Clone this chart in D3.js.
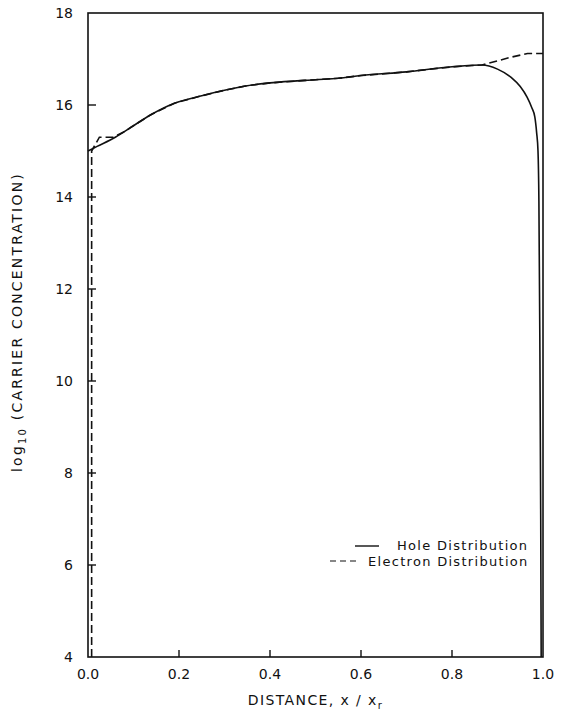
<!DOCTYPE html>
<html>
<head>
<meta charset="utf-8">
<script src="https://cdn.jsdelivr.net/npm/d3@7"></script>
<style>
  body { margin: 0; background: #fff; }
  svg { display: block; }
  text { font-family: "DejaVu Sans", sans-serif; fill: #111; }
</style>
</head>
<body>
<div id="chart"></div>
<script>
// Hole distribution (solid)
const holeX = [0, 0.02, 0.06, 0.10, 0.14, 0.19, 0.25, 0.30, 0.35, 0.40, 0.50, 0.55, 0.60, 0.70, 0.80, 0.866,
               0.90, 0.93, 0.95, 0.965, 0.975, 0.982, 0.986, 0.989, 0.991, 0.993, 0.995, 0.996];
const holeY = [15.0, 15.1, 15.3, 15.55, 15.8, 16.04, 16.2, 16.32, 16.42, 16.48, 16.55, 16.58, 16.64, 16.72, 16.83, 16.87,
               16.78, 16.6, 16.4, 16.17, 15.95, 15.74, 15.4, 15.0, 13.9, 11.0, 7.0, 4.0];

// Electron distribution (dashed)
const elecX = [0.008, 0.008, 0.025, 0.055, 0.08, 0.10, 0.14, 0.19, 0.25, 0.30, 0.35, 0.40, 0.50, 0.55, 0.60, 0.70, 0.80, 0.866,
               0.90, 0.93, 0.966, 1.0];
const elecY = [4.0, 15.0, 15.3, 15.3, 15.42, 15.55, 15.8, 16.04, 16.2, 16.32, 16.42, 16.48, 16.55, 16.58, 16.64, 16.72, 16.83, 16.87,
               16.96, 17.04, 17.12, 17.12];

const xTicks = [0, 0.2, 0.4, 0.6, 0.8, 1.0];
const yTicks = [4, 6, 8, 10, 12, 14, 16, 18];
const legendLabels = ["Hole Distribution", "Electron Distribution"];

const W = 563, H = 717;
const margin = { top: 13, right: 20, bottom: 60, left: 88 };
const chartW = 543 - margin.left;
const chartH = 657 - margin.top;

const x = d3.scaleLinear().domain([0, 1]).range([0, chartW]);
const y = d3.scaleLinear().domain([4, 18]).range([chartH, 0]);

const svg = d3.select("#chart").append("svg").attr("width", W).attr("height", H);
const g = svg.append("g").attr("transform", `translate(${margin.left},${margin.top})`);

// frame
g.append("rect")
  .attr("x", 0).attr("y", 0).attr("width", chartW).attr("height", chartH)
  .attr("fill", "none").attr("stroke", "#111").attr("stroke-width", 1.6);

// x ticks (inward)
xTicks.forEach(t => {
  if (t > 0 && t < 1) {
    g.append("line")
      .attr("x1", x(t)).attr("x2", x(t)).attr("y1", chartH).attr("y2", chartH - 7)
      .attr("stroke", "#111").attr("stroke-width", 1.4);
  }
  g.append("text")
    .attr("x", x(t)).attr("y", chartH + 22)
    .style("font-size", "14px").style("text-anchor", "middle")
    .text(d3.format(".1f")(t));
});

// y ticks (inward)
yTicks.forEach(t => {
  if (t > 4 && t < 18) {
    g.append("line")
      .attr("x1", 0).attr("x2", 8).attr("y1", y(t)).attr("y2", y(t))
      .attr("stroke", "#111").attr("stroke-width", 1.4);
  }
  g.append("text")
    .attr("x", -15).attr("y", y(t) + 5)
    .style("font-size", "14px").style("text-anchor", "end")
    .text(t);
});

// curves
const line = d3.line().x(d => x(d[0])).y(d => y(d[1]));
const holePts = holeX.map((v, i) => [v, holeY[i]]);
const elecPts = elecX.map((v, i) => [v, elecY[i]]);

g.append("path").datum(holePts)
  .attr("d", line.curve(d3.curveMonotoneX))
  .attr("fill", "none").attr("stroke", "#111").attr("stroke-width", 1.6);

g.append("path").datum(elecPts)
  .attr("d", line.curve(d3.curveLinear))
  .attr("fill", "none").attr("stroke", "#111").attr("stroke-width", 1.6)
  .attr("stroke-dasharray", "8,4");

// legend
const leg = svg.append("g");
leg.append("line").attr("x1", 355).attr("x2", 379).attr("y1", 546).attr("y2", 546)
  .attr("stroke", "#111").attr("stroke-width", 1.4);
leg.append("text").attr("x", 397).attr("y", 550)
  .style("font-size", "13px").style("letter-spacing", "1.3px")
  .text(legendLabels[0]);
leg.append("line").attr("x1", 330).attr("x2", 358).attr("y1", 561).attr("y2", 561)
  .attr("stroke", "#111").attr("stroke-width", 1.2).attr("stroke-dasharray", "6,4");
leg.append("text").attr("x", 368).attr("y", 566)
  .style("font-size", "13px").style("letter-spacing", "1.3px")
  .text(legendLabels[1]);

// axis titles
const xt = svg.append("text")
  .attr("x", margin.left + chartW / 2).attr("y", 705)
  .style("font-size", "14px").style("text-anchor", "middle").style("letter-spacing", "1.4px");
xt.append("tspan").text("DISTANCE,  x / x");
xt.append("tspan").attr("dy", 4).style("font-size", "10px").text("r");

const yt = svg.append("text")
  .attr("transform", "translate(22,322) rotate(-90)")
  .style("font-size", "14px").style("text-anchor", "middle").style("letter-spacing", "2.2px");
yt.append("tspan").text("log");
yt.append("tspan").attr("dy", 4).style("font-size", "10px").text("10");
yt.append("tspan").attr("dy", -4).text(" (CARRIER CONCENTRATION)");
</script>
</body>
</html>
